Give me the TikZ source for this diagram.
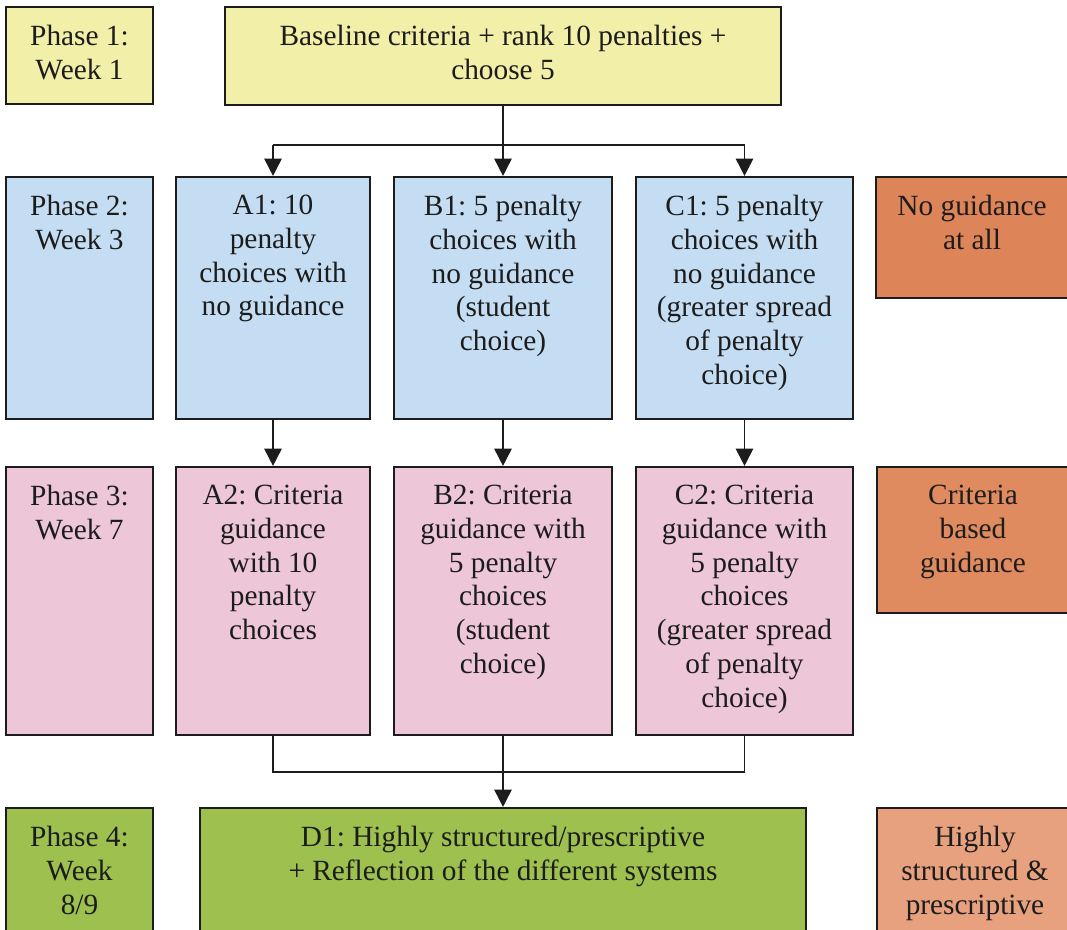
\documentclass[tikz,border=0pt]{standalone}
\usepackage{fontspec}
\setmainfont{Liberation Serif}
\usetikzlibrary{arrows.meta}
\frenchspacing

\definecolor{phaseyellow}{HTML}{F2EFA8}
\definecolor{phaseblue}{HTML}{C4DDF2}
\definecolor{phasepink}{HTML}{EDC6D7}
\definecolor{phasegreen}{HTML}{9DC04E}
\definecolor{tagorangeA}{HTML}{DD8458}
\definecolor{tagorangeB}{HTML}{E08B5F}
\definecolor{tagorangeC}{HTML}{E8A17F}
\definecolor{inkdark}{HTML}{1C1C1C}

\begin{document}
\begin{tikzpicture}[
    x=0.75pt, y=-0.75pt,
    box/.style={draw=inkdark, line width=1.6pt, rectangle, inner sep=0pt},
    txt/.style={anchor=north, align=center, inner sep=0pt, text=inkdark,
                font=\fontsize{22}{25.3}\selectfont},
    link/.style={draw=inkdark, line width=1.3pt},
    arr/.style={link, -{Triangle[width=13pt,length=13pt]}}
  ]
  \useasboundingbox (0,0) rectangle (1067,929);
  \clip (0,0) rectangle (1067,929);
  \fill[white] (0,0) rectangle (1067,929);

  % Phase 1 row
  \node[box, fill=phaseyellow, minimum width=110.25pt, minimum height=72.75pt] (P1) at (79.5,55.5) {};
  \node[box, fill=phaseyellow, minimum width=417pt, minimum height=73.5pt] (Base) at (503,56) {};
  \node[txt] (P1t) at (79.5,25) {Phase 1:\\Week 1};
  \node[txt] (Baset) at (503,25) {Baseline criteria + rank 10 penalties +\\choose 5};

  % Phase 2 row
  \node[box, fill=phaseblue, minimum width=110.25pt, minimum height=181.5pt] (P2) at (79.5,298) {};
  \node[box, fill=phaseblue, minimum width=145.5pt, minimum height=181.5pt] (A1) at (273,298) {};
  \node[box, fill=phaseblue, minimum width=163.5pt, minimum height=181.5pt] (B1) at (503,298) {};
  \node[box, fill=phaseblue, minimum width=162.75pt, minimum height=181.5pt] (C1) at (744.5,298) {};
  \node[box, fill=tagorangeA, minimum width=145.5pt, minimum height=90.75pt] (O1) at (973,237.5) {};
  \node[txt] (P2t) at (79.5,195) {Phase 2:\\Week 3};
  \node[txt] (A1t) at (273,195) {A1: 10\\penalty\\choices with\\no guidance};
  \node[txt] (B1t) at (503,195) {B1: 5 penalty\\choices with\\no guidance\\(student\\choice)};
  \node[txt] (C1t) at (744.5,195) {C1: 5 penalty\\choices with\\no guidance\\(greater spread\\of penalty\\choice)};
  \node[txt] (O1t) at (972,195) {No guidance\\at all};

  % Phase 3 row
  \node[box, fill=phasepink, minimum width=110.25pt, minimum height=201pt] (P3) at (79.5,601) {};
  \node[box, fill=phasepink, minimum width=145.5pt, minimum height=201pt] (A2) at (273,601) {};
  \node[box, fill=phasepink, minimum width=163.5pt, minimum height=201pt] (B2) at (503,601) {};
  \node[box, fill=phasepink, minimum width=162.75pt, minimum height=201pt] (C2) at (744.5,601) {};
  \node[box, fill=tagorangeB, minimum width=144.75pt, minimum height=109.5pt] (O2) at (973.5,540) {};
  \node[txt] (P3t) at (79.5,485) {Phase 3:\\Week 7};
  \node[txt] (A2t) at (273,485) {A2: Criteria\\guidance\\with 10\\penalty\\choices};
  \node[txt] (B2t) at (503,485) {B2: Criteria\\guidance with\\5 penalty\\choices\\(student\\choice)};
  \node[txt] (C2t) at (744.5,485) {C2: Criteria\\guidance with\\5 penalty\\choices\\(greater spread\\of penalty\\choice)};
  \node[txt] (O2t) at (973,485) {Criteria\\based\\guidance};

  % Phase 4 row
  \node[box, fill=phasegreen, minimum width=110.25pt, minimum height=102.75pt] (P4) at (79.5,876.5) {};
  \node[box, fill=phasegreen, minimum width=454.5pt, minimum height=102.75pt] (D1) at (503,876.5) {};
  \node[box, fill=tagorangeC, minimum width=144.75pt, minimum height=102.75pt] (O3) at (973.5,876.5) {};
  \node[txt] (P4t) at (79.5,826) {Phase 4:\\Week\\8/9};
  \node[txt] (D1t) at (503,826) {D1: Highly structured/prescriptive\\+ Reflection of the different systems};
  \node[txt] (O3t) at (975,826) {Highly\\structured \&\\prescriptive};

  % Connectors: baseline fans out to the three groups
  \coordinate (fork) at (503,145);
  \draw[link] (A1.north |- fork) -- (C1.north |- fork);
  \draw[arr] (Base.south) -- (B1.north);
  \draw[arr] (A1.north |- fork) -- (A1.north);
  \draw[arr] (C1.north |- fork) -- (C1.north);

  % Each group moves on to its criteria phase
  \draw[arr] (A1.south) -- (A2.north);
  \draw[arr] (B1.south) -- (B2.north);
  \draw[arr] (C1.south) -- (C2.north);

  % All groups join for the final phase
  \coordinate (join) at (503,772);
  \draw[link] (A2.south) -- (A2.south |- join) -- (C2.south |- join) -- (C2.south);
  \draw[arr] (B2.south) -- (D1.north);
\end{tikzpicture}
\end{document}
